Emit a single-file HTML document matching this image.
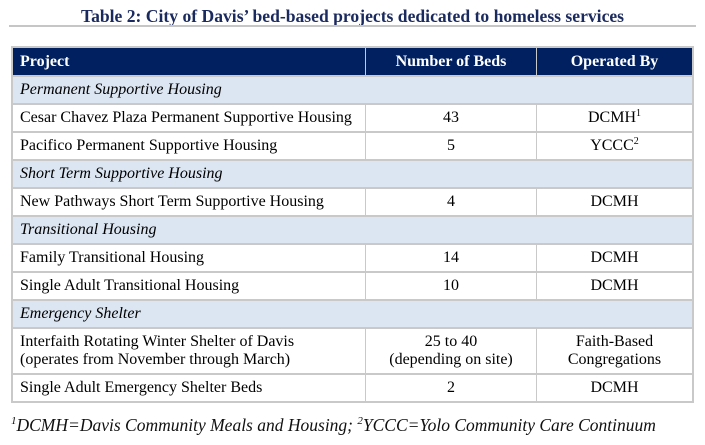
<!DOCTYPE html>
<html>
<head>
<meta charset="utf-8">
<style>
  html,body{margin:0;padding:0;background:#fff;}
  body{width:705px;height:445px;position:relative;overflow:hidden;font-family:"Liberation Serif","Times New Roman",serif;color:#000;}
  .abs{position:absolute;}
  .title{left:0;top:6px;width:705px;text-align:center;font-weight:bold;font-size:17.6px;line-height:20px;color:#1b2a5e;white-space:nowrap;}
  .rule{left:9px;top:25px;width:687px;height:2px;background:#c6c6c6;}
  .frame{left:11px;top:46px;width:683px;height:357px;background:#c9c9c9;}
  .c{position:absolute;font-size:16px;line-height:26px;white-space:nowrap;box-sizing:border-box;}
  .hd{background:#002060;color:#fff;font-weight:bold;line-height:27px;height:27px;top:48px;}
  .sec{background:#dce6f2;font-style:italic;left:13px;width:679px;height:26px;padding-left:7px;}
  .w{background:#fff;height:26px;}
  .c1{left:13px;width:352px;padding-left:7px;}
  .c2{left:366px;width:170px;text-align:center;}
  .c3{left:537px;width:155px;text-align:center;}
  sup{font-size:10px;line-height:0;vertical-align:6px;}
  .tall{height:44px;line-height:18px;padding-top:4px;}
  .foot{left:11px;top:415px;font-style:italic;font-size:17.5px;line-height:20px;white-space:nowrap;color:#111;}
  .foot sup{font-size:11px;vertical-align:7px;}
</style>
</head>
<body>
  <div class="abs title">Table 2: City of Davis’ bed-based projects dedicated to homeless services</div>
  <div class="abs rule"></div>
  <div class="abs frame"></div>

  <!-- header -->
  <div class="c hd c1">Project</div>
  <div class="c hd c2">Number of Beds</div>
  <div class="c hd c3">Operated By</div>

  <!-- Permanent Supportive Housing -->
  <div class="c sec" style="top:77px;">Permanent Supportive Housing</div>
  <div class="c w c1" style="top:105px;">Cesar Chavez Plaza Permanent Supportive Housing</div>
  <div class="c w c2" style="top:105px;">43</div>
  <div class="c w c3" style="top:105px;">DCMH<sup>1</sup></div>
  <div class="c w c1" style="top:133px;">Pacifico Permanent Supportive Housing</div>
  <div class="c w c2" style="top:133px;">5</div>
  <div class="c w c3" style="top:133px;">YCCC<sup>2</sup></div>

  <!-- Short Term -->
  <div class="c sec" style="top:161px;">Short Term Supportive Housing</div>
  <div class="c w c1" style="top:189px;">New Pathways Short Term Supportive Housing</div>
  <div class="c w c2" style="top:189px;">4</div>
  <div class="c w c3" style="top:189px;">DCMH</div>

  <!-- Transitional -->
  <div class="c sec" style="top:217px;">Transitional Housing</div>
  <div class="c w c1" style="top:245px;">Family Transitional Housing</div>
  <div class="c w c2" style="top:245px;">14</div>
  <div class="c w c3" style="top:245px;">DCMH</div>
  <div class="c w c1" style="top:273px;">Single Adult Transitional Housing</div>
  <div class="c w c2" style="top:273px;">10</div>
  <div class="c w c3" style="top:273px;">DCMH</div>

  <!-- Emergency -->
  <div class="c sec" style="top:301px;">Emergency Shelter</div>
  <div class="c w c1 tall" style="top:329px;">Interfaith Rotating Winter Shelter of Davis<br>(operates from November through March)</div>
  <div class="c w c2 tall" style="top:329px;">25 to 40<br>(depending on site)</div>
  <div class="c w c3 tall" style="top:329px;">Faith-Based<br>Congregations</div>
  <div class="c w c1" style="top:375px;">Single Adult Emergency Shelter Beds</div>
  <div class="c w c2" style="top:375px;">2</div>
  <div class="c w c3" style="top:375px;">DCMH</div>

  <div class="abs foot"><sup>1</sup>DCMH=Davis Community Meals and Housing; <sup>2</sup>YCCC=Yolo Community Care Continuum</div>
</body>
</html>
